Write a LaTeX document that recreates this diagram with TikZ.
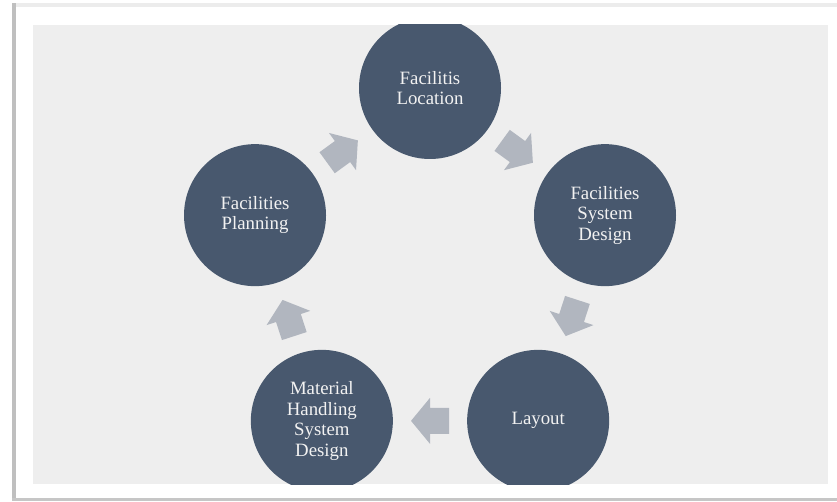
\documentclass[tikz,border=0pt]{standalone}
\usepackage{fontspec}
\setmainfont{Liberation Serif}
\usetikzlibrary{calc}
\definecolor{circ}{HTML}{48586E}
\definecolor{arr}{HTML}{B1B6BF}
\definecolor{panel}{HTML}{EEEEEE}
\definecolor{txt}{HTML}{F2F2F2}
\begin{document}
\begin{tikzpicture}[x=1pt,y=1pt,
  stage/.style={circle, fill=circ, minimum size=142pt, inner sep=0pt, text=txt,
    align=center, font=\fontsize{18.8}{20.5}\selectfont},
  blockarrow/.style={fill=arr, draw=none}]
\useasboundingbox (0,0) rectangle (837,501);
\fill[white] (0,0) rectangle (837,501);
\fill[gray!15] (12,494) rectangle (837,498);
\fill[gray!50] (12,0) rectangle (16,498);
\fill[gray!45] (12,0) rectangle (837,3.5);
\fill[panel] (33,17) rectangle (828,476);
\coordinate (C) at (430,229);
\begin{scope}
\clip (33,17) rectangle (828,476);
\node[stage] (loc)  at ($(C)+(90:184)$)   {Facilitis\\Location};
\node[stage] (fsd)  at ($(C)+(18:184)$)   {Facilities\\System\\Design};
\node[stage] (lay)  at ($(C)+(-54:184)$)  {Layout};
\node[stage] (mhs)  at ($(C)+(-126:184)$) {Material\\Handling\\System\\Design};
\node[stage] (plan) at ($(C)+(162:184)$)  {Facilities\\Planning};
\end{scope}
\foreach \a/\b/\r in {loc/fsd/-36, fsd/lay/-108, lay/mhs/180, mhs/plan/108, plan/loc/36}
  \fill[blockarrow, shift={($(\a)!0.5!(\b)$)}, rotate=\r]
    (-19,-13) -- (0,-13) -- (0,-23) -- (19,0) -- (0,23) -- (0,13) -- (-19,13) -- cycle;
\end{tikzpicture}
\end{document}
